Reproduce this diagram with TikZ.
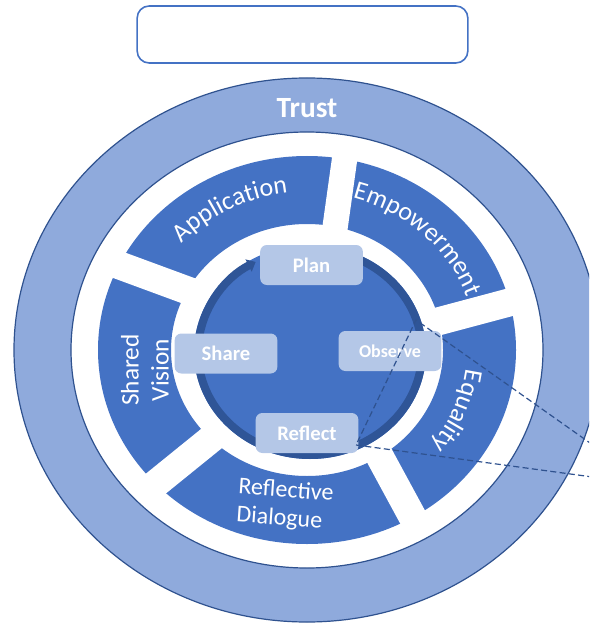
\documentclass[tikz,border=0pt]{standalone}
\usepackage{fontspec}
\setmainfont{Carlito}
\usetikzlibrary{arrows.meta,decorations.text}

\definecolor{trustblue}{HTML}{8FAADC}
\definecolor{segblue}{HTML}{4472C4}
\definecolor{darkblue}{HTML}{2F5597}
\definecolor{edgeblue}{HTML}{2F528F}
\definecolor{paleblue}{HTML}{B4C7E7}

\tikzset{every picture/.style={line width=0.75pt}}
\tikzset{
  stage/.style={fill=paleblue, rounded corners=5pt, minimum width=77pt, minimum height=30pt,
    text=white, font=\bfseries\fontsize{15.5}{18}\selectfont},
  seglabel/.style={text=white, font=\fontsize{19}{22.5}\selectfont},
  gap/.style={white, line width=21pt},
  ringline/.style={draw=edgeblue, line width=0.9pt},
  callout/.style={edgeblue, dash pattern=on 4.5pt off 2.5pt, line width=0.9pt},
  arctext/.style={decorate, decoration={text along path, text align=center, text color=white,
    text={|\fontsize{19.5}{23}\selectfont|#1}}}
}

\begin{document}
\begin{tikzpicture}[x=0.75pt,y=0.75pt,yscale=-1,xscale=1]
\useasboundingbox (0,0) rectangle (589,623);
\clip (0,0) rectangle (589,623);

% Title Box
\draw (302.5,34.5) node [draw=segblue, line width=1.2pt, rounded corners=9pt, minimum width=248pt, minimum height=42.75pt] (title) {};

% Trust ring
\fill[trustblue, even odd rule] (307,350) ellipse [x radius=293, y radius=272] (307,350) ellipse [x radius=236, y radius=218];
\draw[ringline] (307,350) ellipse [x radius=293, y radius=272] (307,350) ellipse [x radius=236, y radius=218];
\draw (307,108.5) node [text=white, font=\bfseries\fontsize{22}{26}\selectfont] (trust) {Trust};

% Segment ring, cut into five by the gaps
\fill[segblue, even odd rule] (307,350) ellipse [x radius=209, y radius=194] (307,350) ellipse [x radius=136, y radius=126];
\draw[gap, line width=19pt] (333.8,236.4) -- (346.4,146.1);
\draw[gap] (429.9,323.6) -- (522.5,298.9);
\draw[gap] (373.8,445.5) -- (418.7,528.3);
\draw[gap] (220.8,431) -- (145.1,492.3);
\draw[gap] (196.3,293.7) -- (105.4,260.2);

% Segment labels
\begin{scope}[shift={(307,350)}]
\path[arctext=Application] (-160:170 and 158) arc [start angle=-160, end angle=-75, x radius=170, y radius=158];
\path[arctext=Empowerment] (-88:170 and 158) arc [start angle=-88, end angle=-5, x radius=170, y radius=158];
\path[arctext=Equality] (-8:160 and 149) arc [start angle=-8, end angle=54, x radius=160, y radius=149];
\end{scope}
\draw (145,370) node [seglabel, rotate=90, align=center] (shared) {Shared\\Vision};
\draw (285,505) node [seglabel, font=\fontsize{18}{21}\selectfont, rotate=-4, align=left] (dialogue) {Reflective\\Dialogue};

% Cycle in the middle
\fill[segblue] (310,352) ellipse [x radius=116, y radius=107];
\begin{scope}[shift={(310,352)}]
\draw[darkblue, line width=6pt, -{Triangle[length=6pt,width=10pt]}] (-80:112 and 103) arc [start angle=-80, end angle=241, x radius=112, y radius=103];
\end{scope}

% Stage Nodes
\draw (311.5,265) node [stage] (plan) {Plan};
\draw (226,353.5) node [stage] (share) {Share};
\draw (390,351) node [stage, font=\bfseries\fontsize{13.5}{16}\selectfont] (observe) {Observe};
\draw (307,433) node [stage] (reflect) {Reflect};

% Callout lines
\coordinate (zoomtop) at (416,320);
\coordinate (zoombot) at (356,445);
\coordinate (edgetop) at (600,450);
\coordinate (edgebot) at (600,478);
\draw[callout] (edgetop) -- (zoomtop) -- (zoombot) -- (edgebot);

\end{tikzpicture}
\end{document}
